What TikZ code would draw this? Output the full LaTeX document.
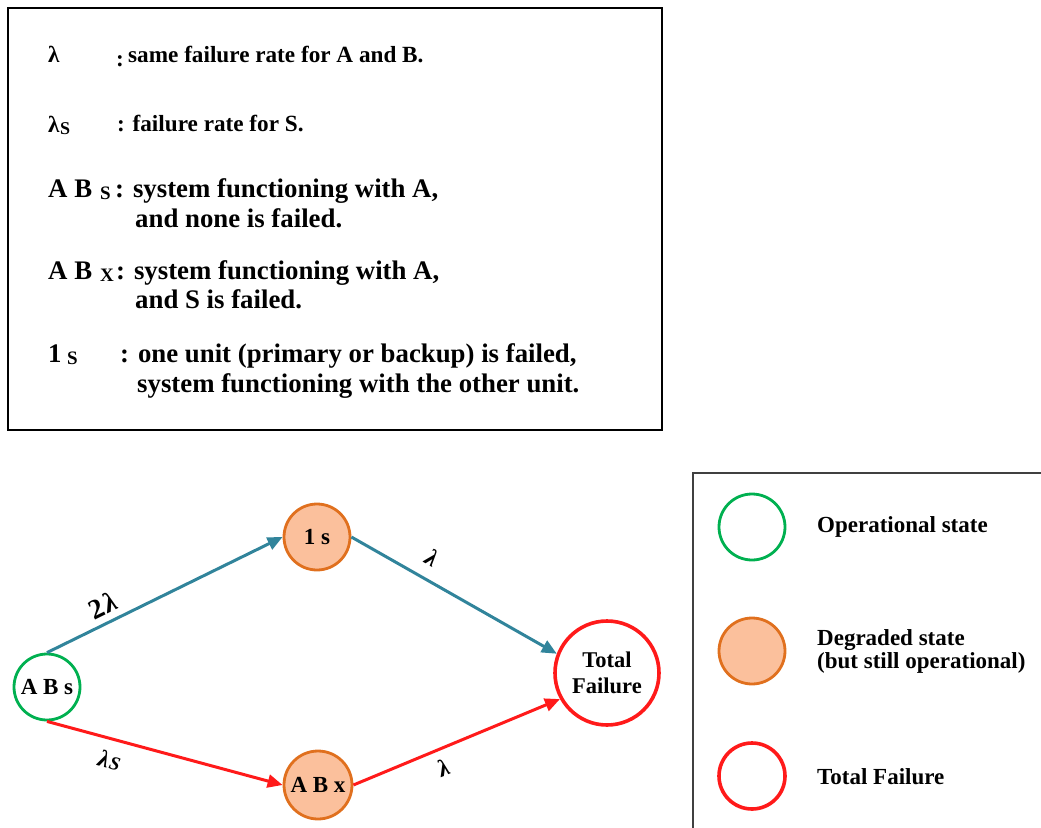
\documentclass[tikz,border=0pt]{standalone}
\usepackage{fontspec}
\setmainfont{Liberation Serif}
\usetikzlibrary{arrows.meta}

\definecolor{opgreen}{HTML}{00B050}
\definecolor{degline}{HTML}{E0701E}
\definecolor{degfill}{HTML}{FBC09C}
\definecolor{failred}{HTML}{FF1A1A}
\definecolor{linkteal}{HTML}{31849B}
\definecolor{framegray}{HTML}{404040}

\newcommand{\fs}[1]{\fontsize{#1}{#1}\selectfont}

\tikzset{
  state/.style={circle, minimum size=66pt, inner sep=0pt, line width=2.8pt,
    font=\bfseries\fs{23}, align=center},
  opstate/.style={state, draw=opgreen},
  degstate/.style={state, draw=degline, fill=degfill},
  failstate/.style={state, draw=failred, line width=3.6pt},
  link/.style={line width=3pt, -{Triangle[length=15pt,width=13pt]}},
  tealink/.style={link, draw=linkteal, fill=linkteal},
  redlink/.style={link, draw=failred, fill=failred},
  rate/.style={font=\bfseries\itshape\fs{24}, sloped, inner sep=1pt},
  deftext/.style={anchor=base west, inner sep=0pt, font=\bfseries\fs{26.8}},
  defsmall/.style={anchor=base west, inner sep=0pt, font=\bfseries\fs{23.2}},
  legtext/.style={anchor=west, inner sep=0pt, align=left, font=\bfseries\fs{23}}
}

\begin{document}
\begin{tikzpicture}[x=1pt,y=-1pt]
\useasboundingbox (0,0) rectangle (1041,827);
\clip (0,0) rectangle (1041,827);

% definitions box
\draw[line width=1.4pt, draw=black] (8,8) rectangle (662,430);
\node[defsmall] (l1a) at (48,62) {λ};
\node[defsmall] (l1b) at (116,66) {:};
\node[defsmall] (l1c) at (128,62) {same failure rate for A and B.};

\node[defsmall] (l2a) at (48,132) {λ};
\node[defsmall, font=\bfseries\fs{18}] (l2s) at (60,134) {S};
\node[defsmall] (l2c) at (117,131) {: failure rate for S.};

\node[deftext] (l3a) at (48,197) {A B};
\node[deftext, font=\bfseries\fs{19}] (l3s) at (100,199) {S};
\node[deftext] (l3c) at (115,197) {: system functioning with A,};
\node[deftext] (l3d) at (135,227) {and none is failed.};

\node[deftext] (l4a) at (48,279) {A B};
\node[deftext, font=\bfseries\fs{19}] (l4s) at (100,281) {X};
\node[deftext] (l4c) at (116,279) {: system functioning with A,};
\node[deftext] (l4d) at (135,308) {and S is failed.};

\node[deftext] (l5a) at (48,362) {1};
\node[deftext, font=\bfseries\fs{19}] (l5s) at (67,364) {S};
\node[deftext] (l5c) at (120,362) {: one unit (primary or backup) is failed,};
\node[deftext] (l5d) at (137,392) {system functioning with the other unit.};

% state diagram
\node[opstate] (abs) at (47,687) {A B s};
\node[degstate] (one) at (317,537) {1 s};
\node[degstate, minimum size=68pt] (abx) at (318,785) {A B x};
\node[failstate, minimum size=104pt, font=\bfseries\fs{22.5}] (tf) at (607,673) {Total\\[3pt]Failure};

\draw[tealink] (abs.north) -- node[rate, pos=0.27, above=5pt, font=\bfseries\fs{28}] {2\kern1.5pt\itshape λ} (one.west);
\draw[tealink] (one.east) -- node[rate, pos=0.34, above=11pt] {λ} (tf.159);
\draw[redlink] (abs.south) -- node[rate, pos=0.29, below=10pt] {λ\kern1pt\fs{19}S} (abx.west);
\draw[redlink] (abx.east) -- node[rate, pos=0.40, below=8pt] {λ} (tf.209);

% legend
\draw[line width=1.4pt, draw=framegray] (693,473) rectangle (1060,850);
\node[opstate] (legop) at (752,527) {};
\node[degstate] (legdeg) at (752,651) {};
\node[failstate] (legfail) at (752,776) {};
\node[legtext] (legopt) at (817,527) {Operational state};
\node[legtext] (legdegt) at (817,651) {Degraded state\\(but still operational)};
\node[legtext] (legfailt) at (817,777) {Total Failure};
\end{tikzpicture}
\end{document}
